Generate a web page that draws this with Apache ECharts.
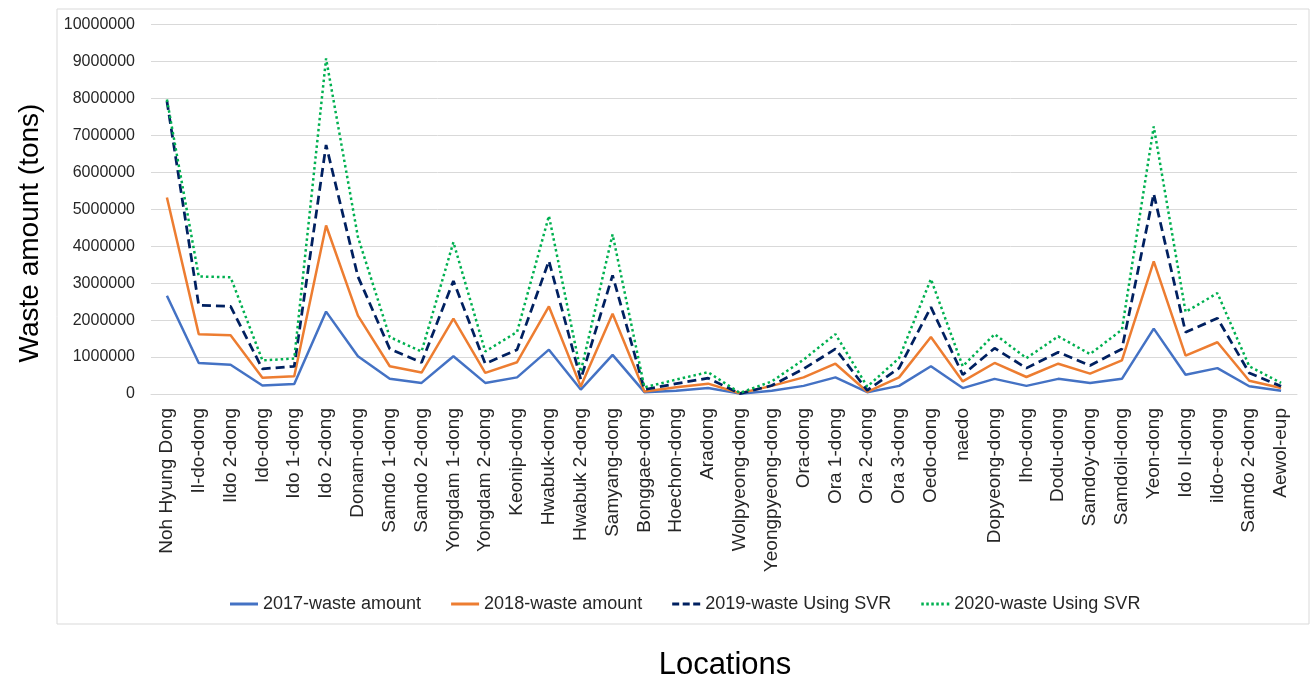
<!DOCTYPE html>
<html>
<head>
<meta charset="utf-8">
<script src="https://cdn.jsdelivr.net/npm/echarts@6/dist/echarts.min.js"></script>
<style>
html,body{margin:0;padding:0;background:#fff;}
#chart{width:1312px;height:681px;}
</style>
</head>
<body>
<div id="chart"></div>
<script>
const locations = ["Noh Hyung Dong","Il-do-dong","Ildo 2-dong","Ido-dong","Ido 1-dong","Ido 2-dong","Donam-dong","Samdo 1-dong","Samdo 2-dong","Yongdam 1-dong","Yongdam 2-dong","Keonip-dong","Hwabuk-dong","Hwabuk 2-dong","Samyang-dong","Bonggae-dong","Hoechon-dong","Aradong","Wolpyeong-dong","Yeongpyeong-dong","Ora-dong","Ora 1-dong","Ora 2-dong","Ora 3-dong","Oedo-dong","naedo","Dopyeong-dong","Iho-dong","Dodu-dong","Samdoy-dong","Samdoil-dong","Yeon-dong","Ido Il-dong","ildo-e-dong","Samdo 2-dong","Aewol-eup"];

const waste2017 = [2660000,840000,790000,230000,270000,2230000,1020000,410000,300000,1020000,300000,450000,1200000,120000,1060000,50000,90000,160000,10000,90000,220000,450000,50000,220000,750000,160000,410000,220000,410000,300000,410000,1770000,520000,700000,210000,90000];

const waste2018 = [5320000,1620000,1590000,440000,480000,4560000,2120000,750000,580000,2040000,570000,860000,2370000,200000,2170000,70000,180000,280000,20000,220000,450000,820000,60000,450000,1540000,340000,840000,460000,820000,550000,910000,3590000,1040000,1400000,360000,160000];

const waste2019 = [7930000,2400000,2370000,680000,750000,6740000,3180000,1220000,850000,3060000,820000,1200000,3600000,400000,3210000,120000,280000,430000,10000,230000,680000,1220000,100000,700000,2350000,520000,1240000,700000,1130000,770000,1220000,5420000,1670000,2050000,570000,210000];

const waste2020 = [7970000,3180000,3160000,910000,960000,9080000,4250000,1540000,1150000,4110000,1150000,1680000,4820000,600000,4320000,180000,390000,590000,30000,340000,930000,1620000,200000,970000,3110000,750000,1620000,970000,1560000,1080000,1740000,7240000,2220000,2730000,750000,300000];

const seriesNames = ["2017-waste amount","2018-waste amount","2019-waste Using SVR","2020-waste Using SVR"];

const chart = echarts.init(document.getElementById('chart'), null, {renderer:'canvas'});
const FONT = '"Liberation Sans", Arial, sans-serif';
const textColor = '#262626';

const ICON_SOLID = 'path://M0,0h28v3h-28z';
const ICON_DASH = 'path://M0,0h7v3h-7z M10.5,0h7v3h-7z M21,0h7v3h-7z';
const ICON_DOT = 'path://M0,0h2.5v3h-2.5z M5,0h2.5v3h-2.5z M10,0h2.5v3h-2.5z M15,0h2.5v3h-2.5z M20,0h2.5v3h-2.5z M25.5,0h2.5v3h-2.5z';

function mk(name, data, color, type, width) {
  return {
    name: name, type: 'line', data: data, symbol: 'none', smooth: false,
    lineStyle: {color: color, width: width, type: type, cap: 'butt'},
    itemStyle: {color: color},
    emphasis: {disabled: true}
  };
}

chart.setOption({
  animation: false,
  backgroundColor: '#fff',
  grid: {left: 151, right: 15, top: 24.5, bottom: 287, containLabel: false},
  xAxis: {
    type: 'category', data: locations, boundaryGap: true,
    axisLine: {show: true, lineStyle: {color: '#D9D9D9', width: 1}},
    axisTick: {show: false},
    axisLabel: {rotate: 90, interval: 0, margin: 14, fontSize: 19, fontFamily: FONT, color: textColor}
  },
  yAxis: {
    type: 'value', min: 0, max: 10000000, interval: 1000000,
    axisLine: {show: false}, axisTick: {show: false},
    splitLine: {show: true, lineStyle: {color: '#D9D9D9', width: 1}},
    axisLabel: {margin: 16, fontSize: 16, fontFamily: FONT, color: textColor, formatter: function (v) { return String(v); }}
  },
  legend: {
    show: true, orient: 'horizontal', left: 225, top: 590,
    itemWidth: 28, itemHeight: 3, itemGap: 30,
    data: [
      {name: seriesNames[0], icon: ICON_SOLID},
      {name: seriesNames[1], icon: ICON_SOLID},
      {name: seriesNames[2], icon: ICON_DASH},
      {name: seriesNames[3], icon: ICON_DOT}
    ],
    textStyle: {fontSize: 18, fontFamily: FONT, color: textColor}
  },
  graphic: [
    {type: 'rect', z: -10, shape: {x: 57, y: 9, width: 1252, height: 615}, style: {fill: 'none', stroke: '#D9D9D9', lineWidth: 1}},
    {type: 'text', x: 30, y: 233, rotation: Math.PI/2, style: {text: 'Waste amount (tons)', font: '28px ' + FONT, fill: '#000', textAlign: 'center', textVerticalAlign: 'middle'}},
    {type: 'text', x: 725, y: 665, style: {text: 'Locations', font: '31px ' + FONT, fill: '#000', textAlign: 'center', textVerticalAlign: 'middle'}}
  ],
  series: [
    mk(seriesNames[0], waste2017, '#4472C4', 'solid', 2.5),
    mk(seriesNames[1], waste2018, '#ED7D31', 'solid', 2.5),
    mk(seriesNames[2], waste2019, '#002060', [9, 5], 2.75),
    mk(seriesNames[3], waste2020, '#00B050', [2.5, 3], 2.5)
  ]
});
</script>
</body>
</html>
